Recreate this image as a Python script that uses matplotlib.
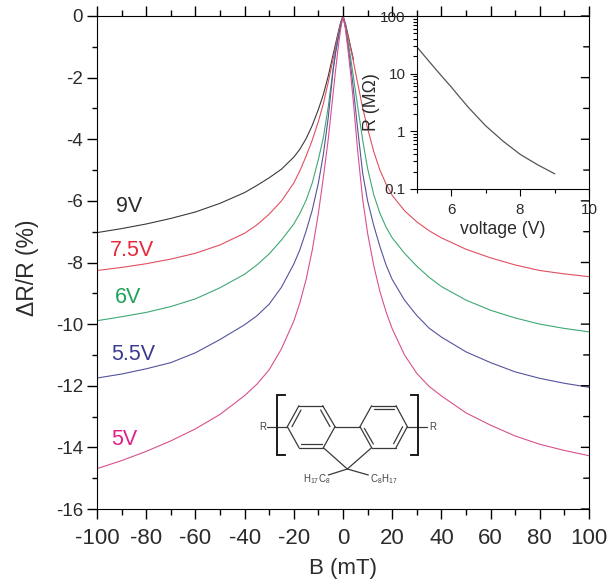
"""Magnetoresistance vs. field at several voltages, with R(V) inset and polymer structure."""

import matplotlib
matplotlib.use("Agg")
import matplotlib.pyplot as plt
from matplotlib.ticker import FixedLocator, NullFormatter, FuncFormatter

plt.rcParams["font.family"] = ["Liberation Sans", "DejaVu Sans"]
plt.rcParams["mathtext.fontset"] = "custom"
plt.rcParams["mathtext.rm"] = "Liberation Sans"
plt.rcParams["axes.unicode_minus"] = False

TEXT = "#2b2b2b"

# values
b_field = [-100, -90, -80, -70, -60, -50, -40, -35, -30, -25, -20, -17.5, -15, -12.5, -10, -8, -6, -4, -3, -2, -1, 0,
           1, 2, 3, 4, 6, 8, 10, 12.5, 15, 17.5, 20, 25, 30, 35, 40, 50, 60, 70, 80, 90, 100]
r_75v = [-8.26, -8.16, -8.04, -7.89, -7.70, -7.43, -7.05, -6.78, -6.43, -6.0, -5.42, -5.02, -4.55, -4.03, -3.42, -2.85, -2.15, -1.38, -1.0, -0.62, -0.25, 0,
         -0.3, -0.65, -1.02, -1.38, -2.2, -2.98, -3.65, -4.4, -5.0, -5.45, -5.82, -6.32, -6.68, -6.97, -7.2, -7.57, -7.85, -8.08, -8.26, -8.37, -8.46]
r_6v = [-9.89, -9.76, -9.62, -9.43, -9.18, -8.82, -8.38, -8.08, -7.72, -7.27, -6.75, -6.4, -5.98, -5.42, -4.65, -3.95, -2.95, -1.7, -1.15, -0.7, -0.3, 0,
        -0.35, -0.8, -1.3, -1.85, -2.95, -4.03, -4.95, -5.8, -6.4, -6.85, -7.2, -7.7, -8.12, -8.48, -8.78, -9.22, -9.55, -9.8, -10.0, -10.14, -10.25]
r_55v = [-11.75, -11.62, -11.45, -11.25, -10.93, -10.5, -10.02, -9.73, -9.35, -8.8, -8.05, -7.58, -6.98, -6.3, -5.42, -4.5, -3.3, -1.75, -1.2, -0.75, -0.32, 0,
         -0.38, -0.95, -1.55, -2.2, -3.7, -5.1, -6.0, -6.8, -7.48, -8.08, -8.55, -9.22, -9.72, -10.13, -10.42, -10.9, -11.25, -11.55, -11.76, -11.92, -12.05]
r_5v = [-14.69, -14.43, -14.13, -13.79, -13.4, -12.93, -12.32, -11.95, -11.48, -10.8, -9.9, -9.3, -8.55, -7.6, -6.4, -5.25, -4.0, -2.5, -1.75, -1.05, -0.45, 0,
        -0.42, -1.08, -1.8, -2.6, -4.4, -5.95, -7.05, -8.1, -8.94, -9.6, -10.15, -11.0, -11.6, -12.02, -12.33, -12.88, -13.28, -13.63, -13.9, -14.1, -14.27]

# the 9V curve stops just right of the peak
b_9v = [-100, -90, -80, -70, -60, -50, -40, -35, -30, -25, -20, -17.5, -15, -12.5, -10, -8, -6, -4, -3, -2, -1, 0, 1, 2, 3, 4.2]
r_9v = [-7.03, -6.90, -6.75, -6.57, -6.36, -6.08, -5.73, -5.50, -5.25, -4.97, -4.58, -4.32, -3.98, -3.55, -3.03, -2.55, -1.95, -1.25, -0.9, -0.55, -0.22, 0, -0.25, -0.6, -0.97, -1.4]

# inset: resistance vs. voltage
voltage = [5, 5.25, 5.5, 5.75, 6, 6.25, 6.5, 6.75, 7, 7.5, 8, 8.5, 9]
resistance = [29.4, 19.5, 13, 8.7, 5.9, 3.9, 2.6, 1.8, 1.25, 0.68, 0.40, 0.265, 0.184]

x_ticks = list(range(-100, 101, 20))
y_ticks = list(range(-16, 1, 2))
log_minor = [m * d for d in (0.1, 1, 10) for m in range(2, 10)]

fig = plt.figure(figsize=(6.08, 5.83), dpi=100)
ax = fig.add_axes([97 / 608, 74 / 583, 492 / 608, 493 / 583])

ax.plot(b_9v, r_9v, color="#3a3a3a", lw=0.8)
ax.plot(b_field, r_75v, color="#e0505f", lw=0.8)
ax.plot(b_field, r_6v, color="#3fa873", lw=0.8)
ax.plot(b_field, r_55v, color="#54549c", lw=0.8)
ax.plot(b_field, r_5v, color="#d8508f", lw=0.8)

ax.text(-87, -6.17, "9V", color="#2b2b2b", fontsize=15.5, ha="center", va="center")
ax.text(-85.7, -7.6, "7.5V", color="#e8283c", fontsize=15.5, ha="center", va="center")
ax.text(-87.3, -9.12, "6V", color="#1fa35c", fontsize=15.5, ha="center", va="center")
ax.text(-85.3, -11.0, "5.5V", color="#3b3b8f", fontsize=15.5, ha="center", va="center")
ax.text(-89, -13.76, "5V", color="#e0218a", fontsize=15.5, ha="center", va="center")

ax.set_xlim(-100, 100)
ax.set_ylim(-16, 0)
ax.set_xticks(x_ticks)
ax.set_yticks(y_ticks)
ax.xaxis.set_minor_locator(FixedLocator(list(range(-90, 100, 20))))
ax.yaxis.set_minor_locator(FixedLocator(list(range(-15, 0, 2))))
ax.tick_params(axis="x", which="major", direction="out", length=7, width=1, top=True, labelsize=16, pad=7, labelcolor=TEXT)
ax.tick_params(axis="x", which="minor", direction="out", length=4, width=1, top=True)
ax.tick_params(axis="y", which="major", direction="out", length=7, width=1, labelsize=13.5, pad=3, labelcolor=TEXT)
ax.tick_params(axis="y", which="minor", direction="out", length=3.6, width=1)
ax.set_xlabel("B (mT)", fontsize=16, color=TEXT, labelpad=6)
ax.set_ylabel("\u0394R/R (%)", fontsize=16.5, color=TEXT, labelpad=12, y=0.49)

# right side ticks point inward, unlike the other three
ax.tick_params(axis="y", which="both", right=False)
for v in y_ticks + list(range(-15, 0, 2)):
    length = 5.5 if v % 2 == 0 else 3.8
    ax.annotate("", xy=(1, v), xycoords=("axes fraction", "data"),
                xytext=(-length, 0), textcoords="offset points",
                arrowprops=dict(arrowstyle="-", lw=1, color="black", shrinkA=0, shrinkB=0))

# inset
ins = fig.add_axes([416.7 / 608, 394 / 583, 172.3 / 608, 173 / 583], facecolor="none")
ins.plot(voltage, resistance, color="#555555", lw=0.9)
ins.set_xlim(5, 10)
ins.set_yscale("log")
ins.set_ylim(0.1, 100)
ins.set_xticks([6, 8, 10])
ins.xaxis.set_minor_locator(FixedLocator([5, 7, 9]))
ins.yaxis.set_major_locator(FixedLocator([0.1, 1, 10, 100]))
ins.yaxis.set_major_formatter(FuncFormatter(lambda v, _: f"{v:g}"))
ins.yaxis.set_minor_locator(FixedLocator(log_minor))
ins.yaxis.set_minor_formatter(NullFormatter())
ins.spines["top"].set_visible(False)
ins.spines["right"].set_visible(False)
ins.spines["left"].set_linewidth(0.8)
ins.spines["bottom"].set_linewidth(0.8)
ins.tick_params(which="major", length=4.8, width=0.8, labelsize=11, pad=3, labelcolor=TEXT)
ins.tick_params(axis="x", which="major", pad=5)
ins.tick_params(which="minor", length=2.6, width=0.8)
ins.set_xlabel("voltage (V)", fontsize=12.7, color=TEXT, labelpad=3)
ins.set_ylabel("R (M\u03a9)", fontsize=12.8, color=TEXT, labelpad=0)

# polymer structure, coordinates in a helper axes over that part of the picture
mol = fig.add_axes([250 / 608, 83 / 583, 220 / 608, 120 / 583])
mol.set_xlim(0, 660)
mol.set_ylim(360, 0)
mol.axis("off")

bonds = [
    ((112, 140), (147, 77)), ((147, 77), (218, 77)), ((218, 77), (255, 140)),
    ((255, 140), (220, 203)), ((220, 203), (147, 203)), ((147, 203), (112, 140)),
    ((330, 140), (365, 77)), ((365, 77), (438, 77)), ((438, 77), (472, 140)),
    ((472, 140), (438, 203)), ((438, 203), (365, 203)), ((365, 203), (330, 140)),
    ((255, 140), (330, 140)), ((220, 203), (292, 267)), ((365, 203), (292, 267)),
    ((292, 267), (235, 285)), ((292, 267), (355, 285)),
    ((52, 140), (112, 140)), ((472, 140), (532, 140)),
    # inner lines of the double bonds
    ((126, 140), (153, 90)), ((212, 90), (240, 140)), ((152, 192), (215, 192)),
    ((372, 88), (432, 88)), ((458, 140), (431, 191)), ((343, 145), (370, 192)),
]
for p, q in bonds:
    mol.plot([p[0], q[0]], [p[1], q[1]], color="#3a3a3a", lw=0.9, solid_capstyle="round")

mol.plot([105, 82, 82, 105], [45, 45, 225, 225], color="#1a1a1a", lw=1.4, solid_joinstyle="miter")
mol.plot([483, 505, 505, 483], [45, 45, 225, 225], color="#1a1a1a", lw=1.4, solid_joinstyle="miter")

mol.text(38, 140, "R", fontsize=7, color="#444444", ha="center", va="center")
mol.text(547, 140, "R", fontsize=7, color="#444444", ha="center", va="center")
mol.text(200, 296, r"H$_{17}$C$_{8}$", fontsize=7, color="#444444", ha="center", va="center")
mol.text(400, 296, r"C$_{8}$H$_{17}$", fontsize=7, color="#444444", ha="center", va="center")

fig.savefig("out.png", dpi=100)
